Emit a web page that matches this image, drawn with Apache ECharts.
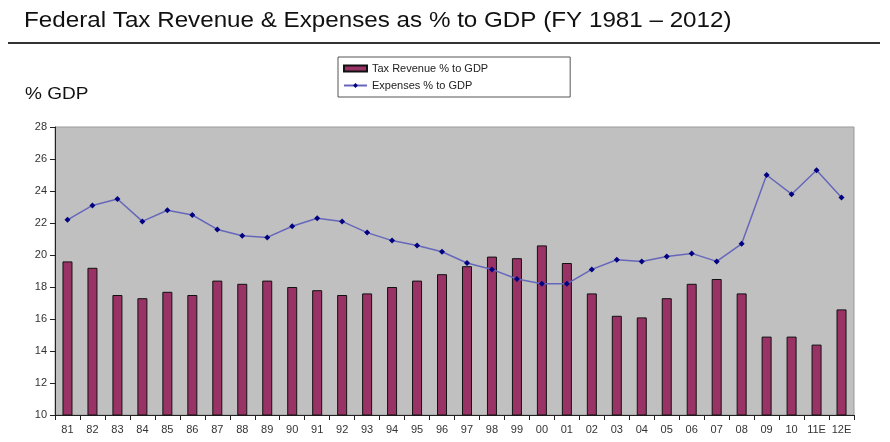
<!DOCTYPE html>
<html><head><meta charset="utf-8">
<script src="https://cdn.jsdelivr.net/npm/echarts@6/dist/echarts.min.js"></script>
<style>html,body{margin:0;padding:0;background:#fff}#c{width:890px;height:442px}</style>
</head><body><div id="c"></div>
<script>
const categories = ['81','82','83','84','85','86','87','88','89','90','91','92','93','94','95','96','97','98','99','00','01','02','03','04','05','06','07','08','09','10','11E','12E'];
const taxRevenue = [19.6,19.2,17.5,17.3,17.7,17.5,18.4,18.2,18.4,18.0,17.8,17.5,17.6,18.0,18.4,18.8,19.3,19.9,19.8,20.6,19.5,17.6,16.2,16.1,17.3,18.2,18.5,17.6,14.9,14.9,14.4,16.6];
const expenses = [22.2,23.1,23.5,22.1,22.8,22.5,21.6,21.2,21.1,21.8,22.3,22.1,21.4,20.9,20.6,20.2,19.5,19.1,18.5,18.2,18.2,19.1,19.7,19.6,19.9,20.1,19.6,20.7,25.0,23.8,25.3,23.6];
const yTicks = {min:10,max:28,interval:2};
const titleText = 'Federal Tax Revenue & Expenses as % to GDP (FY 1981 \u2013 2012)';
const yName = '% GDP';

const chart = echarts.init(document.getElementById('c'));
const FONT = '"Liberation Sans", Arial, sans-serif';
chart.setOption({
  animation:false,
  textStyle:{fontFamily:FONT},
  graphic:[
    {type:'text',x:24,y:21,scaleX:1.1,style:{text:titleText,x:0,y:0,fill:'#111',
      font:'22px '+FONT,verticalAlign:'middle',align:'left'}},
    {type:'text',x:25,y:94,scaleX:1.12,style:{text:yName,x:0,y:0,fill:'#111',
      font:'17px '+FONT,verticalAlign:'middle',align:'left'}},
    {type:'line',shape:{x1:8,y1:43,x2:880,y2:43},style:{stroke:'#333',lineWidth:2}},
    {type:'rect',shape:{x:55,y:127,width:799,height:288},style:{fill:'#c0c0c0',stroke:'#999',lineWidth:1},z:-1}
  ],
  legend:{
    orient:'vertical',left:338,top:57,
    backgroundColor:'#fff',borderColor:'#555',borderWidth:1,
    padding:[6,82,6,5],itemGap:6,itemWidth:23,itemHeight:6,
    textStyle:{fontSize:11,color:'#222',fontFamily:FONT},
    data:[{name:'Tax Revenue % to GDP',icon:'rect'},{name:'Expenses % to GDP'}]
  },
  grid:{left:55,right:36,top:127,bottom:27,show:false},
  xAxis:{
    type:'category',data:categories,boundaryGap:true,
    axisLine:{lineStyle:{color:'#222',width:1}},
    axisTick:{show:true,alignWithLabel:false,length:5,lineStyle:{color:'#222'}},
    axisLabel:{fontSize:11,color:'#333',margin:9,interval:0},
    splitLine:{show:false}
  },
  yAxis:{
    type:'value',min:yTicks.min,max:yTicks.max,interval:yTicks.interval,
    axisLine:{show:true,lineStyle:{color:'#222'}},
    axisTick:{show:true,length:5,lineStyle:{color:'#222'}},
    axisLabel:{fontSize:11,color:'#333',margin:8},
    splitLine:{show:false}
  },
  series:[
    {name:'Tax Revenue % to GDP',type:'bar',data:taxRevenue,barWidth:10,
     itemStyle:{color:'#993366',borderColor:'#111',borderWidth:1}},
    {name:'Expenses % to GDP',type:'line',data:expenses,symbol:'diamond',symbolSize:6,
     lineStyle:{color:'#6666bb',width:1.5},itemStyle:{color:'#000080'}}
  ]
});
</script></body></html>
